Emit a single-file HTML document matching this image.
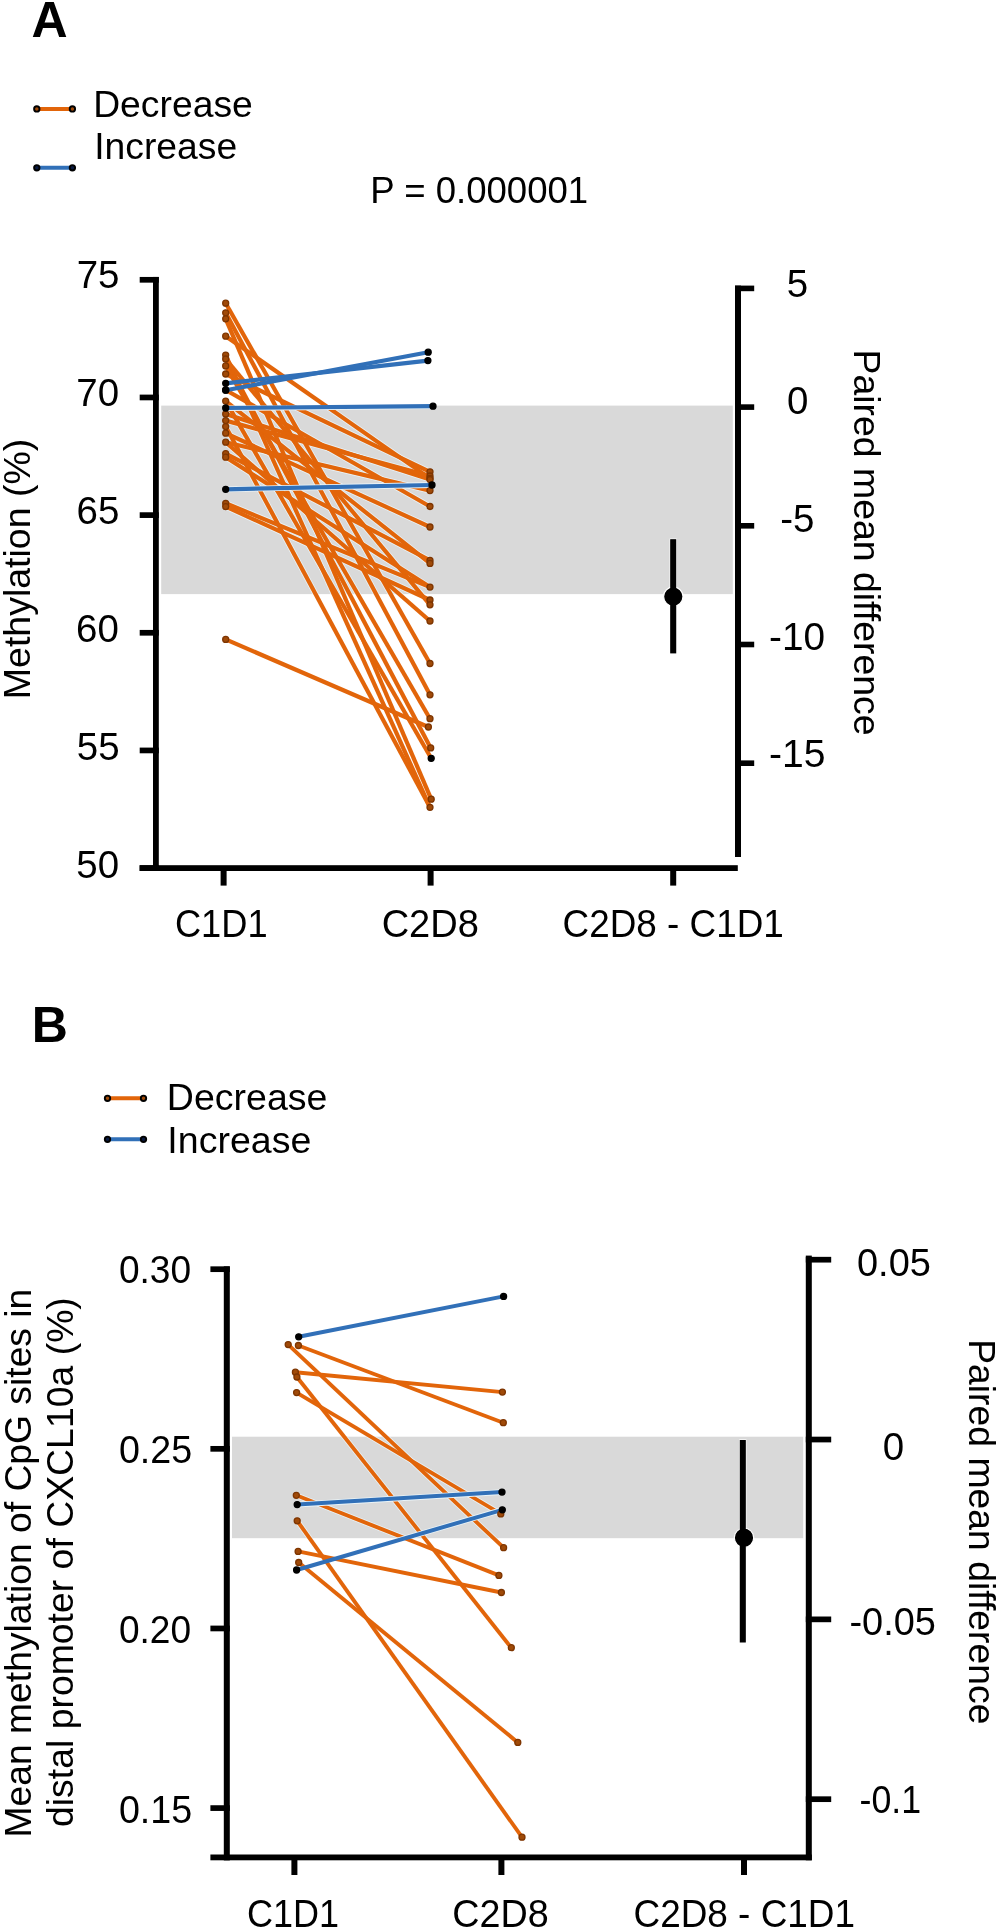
<!DOCTYPE html>
<html><head><meta charset="utf-8"><style>html,body{margin:0;padding:0;width:1000px;height:1931px;overflow:hidden;background:#fff}</style></head>
<body>
<svg width="1000" height="1931" viewBox="0 0 1000 1931" style="position:absolute;left:0;top:0;will-change:transform" font-family='"Liberation Sans", sans-serif'><rect width="1000" height="1931" fill="#fff"/><defs><clipPath id="ga"><rect x="161.2" y="405.6" width="571.6" height="188.5"/></clipPath><clipPath id="gb"><rect x="232" y="1436.7" width="571.2" height="101.5"/></clipPath></defs><g transform="matrix(1.00000 0 0 1.00000 -0.500 0.100)"><text transform="translate(32,37) rotate(0)" font-size="50" font-weight="bold">A</text></g><g transform="matrix(1.00844 0 0 1.00000 -3.636 0.050)"><text transform="translate(96,117) rotate(0)" font-size="37" font-weight="normal">Decrease</text></g><g transform="matrix(1.00803 0 0 1.00000 -2.595 0.150)"><text transform="translate(96,159) rotate(0)" font-size="37" font-weight="normal">Increase</text></g><g transform="matrix(0.98889 0 0 1.00000 1.378 -0.600)"><text transform="translate(373,204) rotate(0)" font-size="37" font-weight="normal">P = 0.000001</text></g><line x1="36.8" y1="108.9" x2="72.4" y2="108.9" stroke="#E2650A" stroke-width="4"/><circle cx="36.8" cy="108.9" r="2.7" fill="#A04A08" stroke="#000" stroke-width="1.9"/><circle cx="72.4" cy="108.9" r="2.7" fill="#A04A08" stroke="#000" stroke-width="1.9"/><line x1="36.8" y1="167.8" x2="72.4" y2="167.8" stroke="#3170B8" stroke-width="4"/><circle cx="36.8" cy="167.8" r="2.7" fill="#0a1a40" stroke="#000" stroke-width="1.9"/><circle cx="72.4" cy="167.8" r="2.7" fill="#0a1a40" stroke="#000" stroke-width="1.9"/><rect x="161.20" y="405.60" width="571.60" height="188.50" fill="#D9D9D9"/><rect x="153.00" y="276.95" width="5.80" height="594.05" fill="#000"/><rect x="139.60" y="865.20" width="598.20" height="5.80" fill="#000"/><rect x="139.70" y="276.95" width="19.10" height="5.70" fill="#000"/><rect x="139.70" y="394.61" width="19.10" height="5.70" fill="#000"/><rect x="139.70" y="512.27" width="19.10" height="5.70" fill="#000"/><rect x="139.70" y="629.93" width="19.10" height="5.70" fill="#000"/><rect x="139.70" y="747.59" width="19.10" height="5.70" fill="#000"/><rect x="139.70" y="865.25" width="19.10" height="5.70" fill="#000"/><g transform="matrix(1.04000 0 0 1.05200 -4.390 -14.700)"><text transform="translate(78,288) rotate(0)" font-size="37" font-weight="normal">75</text></g><g transform="matrix(1.04000 0 0 1.05200 -4.860 -20.836)"><text transform="translate(78,406) rotate(0)" font-size="37" font-weight="normal">70</text></g><g transform="matrix(1.04000 0 0 1.05200 -4.590 -26.570)"><text transform="translate(78,523) rotate(0)" font-size="37" font-weight="normal">65</text></g><g transform="matrix(1.04000 0 0 1.05200 -5.110 -33.358)"><text transform="translate(78,642) rotate(0)" font-size="37" font-weight="normal">60</text></g><g transform="matrix(1.04000 0 0 1.05200 -4.340 -38.592)"><text transform="translate(78,759) rotate(0)" font-size="37" font-weight="normal">55</text></g><g transform="matrix(1.04000 0 0 1.05200 -4.860 -45.430)"><text transform="translate(78,878) rotate(0)" font-size="37" font-weight="normal">50</text></g><rect x="735.00" y="285.60" width="6.00" height="571.40" fill="#000"/><rect x="735.00" y="285.60" width="19.20" height="5.60" fill="#000"/><rect x="735.00" y="404.30" width="19.20" height="5.60" fill="#000"/><rect x="735.00" y="523.00" width="19.20" height="5.60" fill="#000"/><rect x="735.00" y="641.70" width="19.20" height="5.60" fill="#000"/><rect x="735.00" y="760.40" width="19.20" height="5.60" fill="#000"/><g transform="matrix(1.04000 0 0 1.05200 -32.690 -14.816)"><text transform="translate(788,296) rotate(0)" font-size="37" font-weight="normal">5</text></g><g transform="matrix(1.04000 0 0 1.05200 -32.470 -21.202)"><text transform="translate(788,414) rotate(0)" font-size="37" font-weight="normal">0</text></g><g transform="matrix(1.04000 0 0 1.05200 -33.040 -27.588)"><text transform="translate(782,532) rotate(0)" font-size="37" font-weight="normal">-5</text></g><g transform="matrix(1.04800 0 0 1.05200 -38.904 -33.924)"><text transform="translate(771,650) rotate(0)" font-size="37" font-weight="normal">-10</text></g><g transform="matrix(1.05600 0 0 1.05200 -45.088 -39.808)"><text transform="translate(771,767) rotate(0)" font-size="37" font-weight="normal">-15</text></g><rect x="220.60" y="868.00" width="6.00" height="17.60" fill="#000"/><rect x="427.60" y="868.00" width="6.00" height="17.60" fill="#000"/><rect x="670.20" y="868.00" width="6.00" height="17.60" fill="#000"/><g transform="matrix(0.97912 0 0 1.06000 1.637 -56.140)"><text transform="translate(177,937) rotate(0)" font-size="37" font-weight="normal">C1D1</text></g><g transform="matrix(1.02857 0 0 1.06000 -12.300 -56.140)"><text transform="translate(383,937) rotate(0)" font-size="37" font-weight="normal">C2D8</text></g><g transform="matrix(0.99633 0 0 1.06000 0.677 -56.290)"><text transform="translate(564,937) rotate(0)" font-size="37" font-weight="normal">C2D8 - C1D1</text></g><g transform="matrix(1.01000 0 0 1.01349 -1.015 -6.250)"><text transform="translate(31,696) rotate(-90)" font-size="37" font-weight="normal">Methylation (%)</text></g><g transform="matrix(1.01000 0 0 1.01114 -8.725 -6.355)"><text transform="translate(854,352) rotate(90)" font-size="37" font-weight="normal">Paired mean difference</text></g><g clip-path="url(#ga)"><line x1="225.7" y1="303.2" x2="430.0" y2="663.5" stroke="#EAF4F8" stroke-width="5.800000000000001" stroke-linecap="round"/><line x1="225.7" y1="312.8" x2="430.0" y2="694.8" stroke="#EAF4F8" stroke-width="5.800000000000001" stroke-linecap="round"/><line x1="225.7" y1="318.8" x2="431.2" y2="799.2" stroke="#EAF4F8" stroke-width="5.800000000000001" stroke-linecap="round"/><line x1="225.7" y1="336.2" x2="430.0" y2="478.4" stroke="#EAF4F8" stroke-width="5.800000000000001" stroke-linecap="round"/><line x1="225.7" y1="355.1" x2="430.0" y2="807.3" stroke="#EAF4F8" stroke-width="5.800000000000001" stroke-linecap="round"/><line x1="225.7" y1="359.0" x2="430.7" y2="747.9" stroke="#EAF4F8" stroke-width="5.800000000000001" stroke-linecap="round"/><line x1="225.7" y1="359.0" x2="430.0" y2="604.8" stroke="#EAF4F8" stroke-width="5.800000000000001" stroke-linecap="round"/><line x1="225.7" y1="365.9" x2="430.0" y2="718.7" stroke="#EAF4F8" stroke-width="5.800000000000001" stroke-linecap="round"/><line x1="225.7" y1="374.0" x2="430.0" y2="471.8" stroke="#EAF4F8" stroke-width="5.800000000000001" stroke-linecap="round"/><line x1="225.7" y1="390.0" x2="430.0" y2="506.5" stroke="#EAF4F8" stroke-width="5.800000000000001" stroke-linecap="round"/><line x1="225.7" y1="401.1" x2="431.2" y2="758.3" stroke="#EAF4F8" stroke-width="5.800000000000001" stroke-linecap="round"/><line x1="225.7" y1="401.1" x2="430.0" y2="563.4" stroke="#EAF4F8" stroke-width="5.800000000000001" stroke-linecap="round"/><line x1="225.7" y1="414.0" x2="430.0" y2="479.6" stroke="#EAF4F8" stroke-width="5.800000000000001" stroke-linecap="round"/><line x1="225.7" y1="420.6" x2="430.0" y2="476.0" stroke="#EAF4F8" stroke-width="5.800000000000001" stroke-linecap="round"/><line x1="225.7" y1="426.6" x2="430.0" y2="807.3" stroke="#EAF4F8" stroke-width="5.800000000000001" stroke-linecap="round"/><line x1="225.7" y1="433.2" x2="430.0" y2="527.0" stroke="#EAF4F8" stroke-width="5.800000000000001" stroke-linecap="round"/><line x1="225.7" y1="442.2" x2="430.0" y2="490.6" stroke="#EAF4F8" stroke-width="5.800000000000001" stroke-linecap="round"/><line x1="225.7" y1="442.2" x2="430.0" y2="621.0" stroke="#EAF4F8" stroke-width="5.800000000000001" stroke-linecap="round"/><line x1="225.7" y1="453.6" x2="430.0" y2="560.4" stroke="#EAF4F8" stroke-width="5.800000000000001" stroke-linecap="round"/><line x1="225.7" y1="457.2" x2="430.0" y2="587.1" stroke="#EAF4F8" stroke-width="5.800000000000001" stroke-linecap="round"/><line x1="225.7" y1="503.3" x2="430.0" y2="587.1" stroke="#EAF4F8" stroke-width="5.800000000000001" stroke-linecap="round"/><line x1="225.7" y1="506.6" x2="430.0" y2="600.0" stroke="#EAF4F8" stroke-width="5.800000000000001" stroke-linecap="round"/><line x1="225.7" y1="639.4" x2="428.4" y2="727.0" stroke="#EAF4F8" stroke-width="5.800000000000001" stroke-linecap="round"/></g><line x1="225.7" y1="303.2" x2="430.0" y2="663.5" stroke="#E2650A" stroke-width="4.2"/><line x1="225.7" y1="312.8" x2="430.0" y2="694.8" stroke="#E2650A" stroke-width="4.2"/><line x1="225.7" y1="318.8" x2="431.2" y2="799.2" stroke="#E2650A" stroke-width="4.2"/><line x1="225.7" y1="336.2" x2="430.0" y2="478.4" stroke="#E2650A" stroke-width="4.2"/><line x1="225.7" y1="355.1" x2="430.0" y2="807.3" stroke="#E2650A" stroke-width="4.2"/><line x1="225.7" y1="359.0" x2="430.7" y2="747.9" stroke="#E2650A" stroke-width="4.2"/><line x1="225.7" y1="359.0" x2="430.0" y2="604.8" stroke="#E2650A" stroke-width="4.2"/><line x1="225.7" y1="365.9" x2="430.0" y2="718.7" stroke="#E2650A" stroke-width="4.2"/><line x1="225.7" y1="374.0" x2="430.0" y2="471.8" stroke="#E2650A" stroke-width="4.2"/><line x1="225.7" y1="390.0" x2="430.0" y2="506.5" stroke="#E2650A" stroke-width="4.2"/><line x1="225.7" y1="401.1" x2="431.2" y2="758.3" stroke="#E2650A" stroke-width="4.2"/><line x1="225.7" y1="401.1" x2="430.0" y2="563.4" stroke="#E2650A" stroke-width="4.2"/><line x1="225.7" y1="414.0" x2="430.0" y2="479.6" stroke="#E2650A" stroke-width="4.2"/><line x1="225.7" y1="420.6" x2="430.0" y2="476.0" stroke="#E2650A" stroke-width="4.2"/><line x1="225.7" y1="426.6" x2="430.0" y2="807.3" stroke="#E2650A" stroke-width="4.2"/><line x1="225.7" y1="433.2" x2="430.0" y2="527.0" stroke="#E2650A" stroke-width="4.2"/><line x1="225.7" y1="442.2" x2="430.0" y2="490.6" stroke="#E2650A" stroke-width="4.2"/><line x1="225.7" y1="442.2" x2="430.0" y2="621.0" stroke="#E2650A" stroke-width="4.2"/><line x1="225.7" y1="453.6" x2="430.0" y2="560.4" stroke="#E2650A" stroke-width="4.2"/><line x1="225.7" y1="457.2" x2="430.0" y2="587.1" stroke="#E2650A" stroke-width="4.2"/><line x1="225.7" y1="503.3" x2="430.0" y2="587.1" stroke="#E2650A" stroke-width="4.2"/><line x1="225.7" y1="506.6" x2="430.0" y2="600.0" stroke="#E2650A" stroke-width="4.2"/><line x1="225.7" y1="639.4" x2="428.4" y2="727.0" stroke="#E2650A" stroke-width="4.2"/><g clip-path="url(#ga)"><line x1="225.7" y1="383.3" x2="427.9" y2="360.6" stroke="#EAF4F8" stroke-width="5.800000000000001" stroke-linecap="round"/><line x1="225.7" y1="390.2" x2="428.2" y2="352.2" stroke="#EAF4F8" stroke-width="5.800000000000001" stroke-linecap="round"/><line x1="225.7" y1="408.0" x2="433" y2="406.2" stroke="#EAF4F8" stroke-width="5.800000000000001" stroke-linecap="round"/><line x1="225.7" y1="489.3" x2="432" y2="485.0" stroke="#EAF4F8" stroke-width="5.800000000000001" stroke-linecap="round"/></g><line x1="225.7" y1="383.3" x2="427.9" y2="360.6" stroke="#3170B8" stroke-width="4.2"/><line x1="225.7" y1="390.2" x2="428.2" y2="352.2" stroke="#3170B8" stroke-width="4.2"/><line x1="225.7" y1="408.0" x2="433" y2="406.2" stroke="#3170B8" stroke-width="4.2"/><line x1="225.7" y1="489.3" x2="432" y2="485.0" stroke="#3170B8" stroke-width="4.2"/><circle cx="225.7" cy="303.2" r="3.0" fill="#A04A08" stroke="#7E3500" stroke-width="1.3"/><circle cx="225.7" cy="312.8" r="3.0" fill="#A04A08" stroke="#7E3500" stroke-width="1.3"/><circle cx="225.7" cy="318.8" r="3.0" fill="#A04A08" stroke="#7E3500" stroke-width="1.3"/><circle cx="225.7" cy="336.2" r="3.0" fill="#A04A08" stroke="#7E3500" stroke-width="1.3"/><circle cx="225.7" cy="355.1" r="3.0" fill="#A04A08" stroke="#7E3500" stroke-width="1.3"/><circle cx="225.7" cy="359.0" r="3.0" fill="#A04A08" stroke="#7E3500" stroke-width="1.3"/><circle cx="225.7" cy="365.9" r="3.0" fill="#A04A08" stroke="#7E3500" stroke-width="1.3"/><circle cx="225.7" cy="374.0" r="3.0" fill="#A04A08" stroke="#7E3500" stroke-width="1.3"/><circle cx="225.7" cy="390.0" r="3.0" fill="#000" stroke="#000" stroke-width="1.3"/><circle cx="225.7" cy="401.1" r="3.0" fill="#A04A08" stroke="#7E3500" stroke-width="1.3"/><circle cx="225.7" cy="414.0" r="3.0" fill="#A04A08" stroke="#7E3500" stroke-width="1.3"/><circle cx="225.7" cy="420.6" r="3.0" fill="#A04A08" stroke="#7E3500" stroke-width="1.3"/><circle cx="225.7" cy="426.6" r="3.0" fill="#A04A08" stroke="#7E3500" stroke-width="1.3"/><circle cx="225.7" cy="433.2" r="3.0" fill="#A04A08" stroke="#7E3500" stroke-width="1.3"/><circle cx="225.7" cy="442.2" r="3.0" fill="#A04A08" stroke="#7E3500" stroke-width="1.3"/><circle cx="225.7" cy="453.6" r="3.0" fill="#A04A08" stroke="#7E3500" stroke-width="1.3"/><circle cx="225.7" cy="457.2" r="3.0" fill="#A04A08" stroke="#7E3500" stroke-width="1.3"/><circle cx="225.7" cy="503.3" r="3.0" fill="#A04A08" stroke="#7E3500" stroke-width="1.3"/><circle cx="225.7" cy="506.6" r="3.0" fill="#A04A08" stroke="#7E3500" stroke-width="1.3"/><circle cx="225.7" cy="639.4" r="3.0" fill="#A04A08" stroke="#7E3500" stroke-width="1.3"/><circle cx="428.4" cy="727.0" r="3.0" fill="#A04A08" stroke="#7E3500" stroke-width="1.3"/><circle cx="430.0" cy="471.8" r="3.0" fill="#A04A08" stroke="#7E3500" stroke-width="1.3"/><circle cx="430.0" cy="476.0" r="3.0" fill="#A04A08" stroke="#7E3500" stroke-width="1.3"/><circle cx="430.0" cy="478.4" r="3.0" fill="#A04A08" stroke="#7E3500" stroke-width="1.3"/><circle cx="430.0" cy="479.6" r="3.0" fill="#A04A08" stroke="#7E3500" stroke-width="1.3"/><circle cx="430.0" cy="490.6" r="3.0" fill="#A04A08" stroke="#7E3500" stroke-width="1.3"/><circle cx="430.0" cy="506.5" r="3.0" fill="#A04A08" stroke="#7E3500" stroke-width="1.3"/><circle cx="430.0" cy="527.0" r="3.0" fill="#A04A08" stroke="#7E3500" stroke-width="1.3"/><circle cx="430.0" cy="560.4" r="3.0" fill="#A04A08" stroke="#7E3500" stroke-width="1.3"/><circle cx="430.0" cy="563.4" r="3.0" fill="#A04A08" stroke="#7E3500" stroke-width="1.3"/><circle cx="430.0" cy="587.1" r="3.0" fill="#A04A08" stroke="#7E3500" stroke-width="1.3"/><circle cx="430.0" cy="600.0" r="3.0" fill="#A04A08" stroke="#7E3500" stroke-width="1.3"/><circle cx="430.0" cy="604.8" r="3.0" fill="#A04A08" stroke="#7E3500" stroke-width="1.3"/><circle cx="430.0" cy="621.0" r="3.0" fill="#A04A08" stroke="#7E3500" stroke-width="1.3"/><circle cx="430.0" cy="663.5" r="3.0" fill="#A04A08" stroke="#7E3500" stroke-width="1.3"/><circle cx="430.0" cy="694.8" r="3.0" fill="#A04A08" stroke="#7E3500" stroke-width="1.3"/><circle cx="430.0" cy="718.7" r="3.0" fill="#A04A08" stroke="#7E3500" stroke-width="1.3"/><circle cx="430.0" cy="807.3" r="3.0" fill="#A04A08" stroke="#7E3500" stroke-width="1.3"/><circle cx="430.7" cy="747.9" r="3.0" fill="#A04A08" stroke="#7E3500" stroke-width="1.3"/><circle cx="431.2" cy="758.3" r="3.0" fill="#000" stroke="#000" stroke-width="1.3"/><circle cx="431.2" cy="799.2" r="3.0" fill="#A04A08" stroke="#7E3500" stroke-width="1.3"/><circle cx="225.7" cy="383.3" r="3.0" fill="#000" stroke="#000" stroke-width="1.3"/><circle cx="225.7" cy="390.2" r="3.0" fill="#000" stroke="#000" stroke-width="1.3"/><circle cx="225.7" cy="408.0" r="3.0" fill="#000" stroke="#000" stroke-width="1.3"/><circle cx="225.7" cy="489.3" r="3.0" fill="#000" stroke="#000" stroke-width="1.3"/><circle cx="427.9" cy="360.6" r="3.0" fill="#000" stroke="#000" stroke-width="1.3"/><circle cx="428.2" cy="352.2" r="3.0" fill="#000" stroke="#000" stroke-width="1.3"/><circle cx="432" cy="485.0" r="3.0" fill="#000" stroke="#000" stroke-width="1.3"/><circle cx="433" cy="406.2" r="3.0" fill="#000" stroke="#000" stroke-width="1.3"/><rect x="670.2" y="539.2" width="6" height="114.2" fill="#000" stroke="#fff" stroke-width="1.2"/><circle cx="673.3" cy="596.6" r="9.7" fill="#000" stroke="#fff" stroke-width="1.2"/><rect x="670.20" y="539.20" width="6.00" height="114.20" fill="#000"/><g transform="matrix(1.00000 0 0 1.00000 -3.250 0.650)"><text transform="translate(35,1041) rotate(0)" font-size="50" font-weight="bold">B</text></g><g transform="matrix(1.01364 0 0 1.00000 -5.459 0.050)"><text transform="translate(170,1110) rotate(0)" font-size="37" font-weight="normal">Decrease</text></g><g transform="matrix(1.01460 0 0 1.00000 -5.126 0.450)"><text transform="translate(170,1153) rotate(0)" font-size="37" font-weight="normal">Increase</text></g><line x1="107.5" y1="1098.3" x2="143.5" y2="1098.3" stroke="#E2650A" stroke-width="4"/><circle cx="107.5" cy="1098.3" r="2.7" fill="#A04A08" stroke="#000" stroke-width="1.9"/><circle cx="143.5" cy="1098.3" r="2.7" fill="#A04A08" stroke="#000" stroke-width="1.9"/><line x1="107.5" y1="1139.3" x2="143.5" y2="1139.3" stroke="#3170B8" stroke-width="4"/><circle cx="107.5" cy="1139.3" r="2.7" fill="#0a1a40" stroke="#000" stroke-width="1.9"/><circle cx="143.5" cy="1139.3" r="2.7" fill="#0a1a40" stroke="#000" stroke-width="1.9"/><rect x="232.00" y="1436.70" width="571.20" height="101.50" fill="#D9D9D9"/><rect x="223.80" y="1266.35" width="6.00" height="594.05" fill="#000"/><rect x="210.40" y="1854.50" width="601.40" height="5.80" fill="#000"/><rect x="210.40" y="1266.35" width="19.40" height="5.70" fill="#000"/><rect x="210.40" y="1445.98" width="19.40" height="5.70" fill="#000"/><rect x="210.40" y="1625.61" width="19.40" height="5.70" fill="#000"/><rect x="210.40" y="1805.24" width="19.40" height="5.70" fill="#000"/><g transform="matrix(1.00286 0 0 1.05200 -1.446 -65.988)"><text transform="translate(120,1282) rotate(0)" font-size="37" font-weight="normal">0.30</text></g><g transform="matrix(1.01739 0 0 1.05200 -3.204 -75.098)"><text transform="translate(120,1462) rotate(0)" font-size="37" font-weight="normal">0.25</text></g><g transform="matrix(1.00286 0 0 1.05200 -1.446 -84.608)"><text transform="translate(120,1642) rotate(0)" font-size="37" font-weight="normal">0.20</text></g><g transform="matrix(1.01739 0 0 1.05200 -3.204 -94.018)"><text transform="translate(120,1822) rotate(0)" font-size="37" font-weight="normal">0.15</text></g><rect x="805.80" y="1255.60" width="6.00" height="604.70" fill="#000"/><rect x="805.80" y="1256.85" width="25.40" height="5.70" fill="#000"/><rect x="805.80" y="1436.68" width="25.40" height="5.70" fill="#000"/><rect x="805.80" y="1616.51" width="25.40" height="5.70" fill="#000"/><rect x="805.80" y="1796.34" width="25.40" height="5.70" fill="#000"/><g transform="matrix(1.02609 0 0 1.05200 -23.409 -66.326)"><text transform="translate(858,1276) rotate(0)" font-size="37" font-weight="normal">0.05</text></g><g transform="matrix(1.04000 0 0 1.05200 -36.510 -75.744)"><text transform="translate(884,1460) rotate(0)" font-size="37" font-weight="normal">0</text></g><g transform="matrix(1.02469 0 0 1.05200 -22.562 -84.594)"><text transform="translate(851,1635) rotate(0)" font-size="37" font-weight="normal">-0.05</text></g><g transform="matrix(0.96667 0 0 1.05200 27.267 -93.850)"><text transform="translate(861,1813) rotate(0)" font-size="37" font-weight="normal">-0.1</text></g><rect x="291.40" y="1857.00" width="6.00" height="18.00" fill="#000"/><rect x="498.40" y="1857.00" width="6.00" height="18.00" fill="#000"/><rect x="741.00" y="1857.00" width="6.00" height="18.00" fill="#000"/><g transform="matrix(0.97363 0 0 1.06000 4.620 -114.580)"><text transform="translate(249,1926) rotate(0)" font-size="37" font-weight="normal">C1D1</text></g><g transform="matrix(1.01978 0 0 1.06000 -10.620 -114.580)"><text transform="translate(454,1926) rotate(0)" font-size="37" font-weight="normal">C2D8</text></g><g transform="matrix(0.99771 0 0 1.06000 -0.039 -114.880)"><text transform="translate(635,1926) rotate(0)" font-size="37" font-weight="normal">C2D8 - C1D1</text></g><g transform="matrix(1.01000 0 0 1.00741 -0.715 -10.063)"><text transform="translate(31,1834) rotate(-90)" font-size="37" font-weight="normal">Mean methylation of CpG sites in</text></g><g transform="matrix(1.01000 0 0 1.01058 -1.395 -17.282)"><text transform="translate(74,1825) rotate(-90)" font-size="37" font-weight="normal">distal promoter of CXCL10a (%)</text></g><g transform="matrix(1.01000 0 0 1.00928 -10.025 -15.287)"><text transform="translate(969,1342) rotate(90)" font-size="37" font-weight="normal">Paired mean difference</text></g><g clip-path="url(#gb)"><line x1="288.2" y1="1344.6" x2="503.6" y2="1547.7" stroke="#EAF4F8" stroke-width="5.5" stroke-linecap="round"/><line x1="298.4" y1="1345.5" x2="503.3" y2="1422.7" stroke="#EAF4F8" stroke-width="5.5" stroke-linecap="round"/><line x1="295.4" y1="1372.2" x2="502.4" y2="1392.1" stroke="#EAF4F8" stroke-width="5.5" stroke-linecap="round"/><line x1="296.9" y1="1377.0" x2="511.3" y2="1647.7" stroke="#EAF4F8" stroke-width="5.5" stroke-linecap="round"/><line x1="296.6" y1="1392.6" x2="500.8" y2="1513.9" stroke="#EAF4F8" stroke-width="5.5" stroke-linecap="round"/><line x1="296.3" y1="1495.3" x2="498.9" y2="1575.4" stroke="#EAF4F8" stroke-width="5.5" stroke-linecap="round"/><line x1="297.2" y1="1520.8" x2="522.0" y2="1837.2" stroke="#EAF4F8" stroke-width="5.5" stroke-linecap="round"/><line x1="298.1" y1="1551.4" x2="501.4" y2="1592.5" stroke="#EAF4F8" stroke-width="5.5" stroke-linecap="round"/><line x1="298.7" y1="1562.5" x2="517.8" y2="1742.4" stroke="#EAF4F8" stroke-width="5.5" stroke-linecap="round"/></g><line x1="288.2" y1="1344.6" x2="503.6" y2="1547.7" stroke="#E2650A" stroke-width="3.9"/><line x1="298.4" y1="1345.5" x2="503.3" y2="1422.7" stroke="#E2650A" stroke-width="3.9"/><line x1="295.4" y1="1372.2" x2="502.4" y2="1392.1" stroke="#E2650A" stroke-width="3.9"/><line x1="296.9" y1="1377.0" x2="511.3" y2="1647.7" stroke="#E2650A" stroke-width="3.9"/><line x1="296.6" y1="1392.6" x2="500.8" y2="1513.9" stroke="#E2650A" stroke-width="3.9"/><line x1="296.3" y1="1495.3" x2="498.9" y2="1575.4" stroke="#E2650A" stroke-width="3.9"/><line x1="297.2" y1="1520.8" x2="522.0" y2="1837.2" stroke="#E2650A" stroke-width="3.9"/><line x1="298.1" y1="1551.4" x2="501.4" y2="1592.5" stroke="#E2650A" stroke-width="3.9"/><line x1="298.7" y1="1562.5" x2="517.8" y2="1742.4" stroke="#E2650A" stroke-width="3.9"/><g clip-path="url(#gb)"><line x1="298.7" y1="1336.8" x2="503.6" y2="1296.4" stroke="#EAF4F8" stroke-width="5.6" stroke-linecap="round"/><line x1="297.2" y1="1504.6" x2="502.0" y2="1492.1" stroke="#EAF4F8" stroke-width="5.6" stroke-linecap="round"/><line x1="296.6" y1="1570.0" x2="502.3" y2="1509.8" stroke="#EAF4F8" stroke-width="5.6" stroke-linecap="round"/></g><line x1="298.7" y1="1336.8" x2="503.6" y2="1296.4" stroke="#3170B8" stroke-width="4.0"/><line x1="297.2" y1="1504.6" x2="502.0" y2="1492.1" stroke="#3170B8" stroke-width="4.0"/><line x1="296.6" y1="1570.0" x2="502.3" y2="1509.8" stroke="#3170B8" stroke-width="4.0"/><circle cx="288.2" cy="1344.6" r="3.0" fill="#A04A08" stroke="#7E3500" stroke-width="1.3"/><circle cx="295.4" cy="1372.2" r="3.0" fill="#A04A08" stroke="#7E3500" stroke-width="1.3"/><circle cx="296.3" cy="1495.3" r="3.0" fill="#A04A08" stroke="#7E3500" stroke-width="1.3"/><circle cx="296.6" cy="1392.6" r="3.0" fill="#A04A08" stroke="#7E3500" stroke-width="1.3"/><circle cx="296.9" cy="1377.0" r="3.0" fill="#A04A08" stroke="#7E3500" stroke-width="1.3"/><circle cx="297.2" cy="1520.8" r="3.0" fill="#A04A08" stroke="#7E3500" stroke-width="1.3"/><circle cx="298.1" cy="1551.4" r="3.0" fill="#A04A08" stroke="#7E3500" stroke-width="1.3"/><circle cx="298.4" cy="1345.5" r="3.0" fill="#A04A08" stroke="#7E3500" stroke-width="1.3"/><circle cx="298.7" cy="1562.5" r="3.0" fill="#A04A08" stroke="#7E3500" stroke-width="1.3"/><circle cx="498.9" cy="1575.4" r="3.0" fill="#A04A08" stroke="#7E3500" stroke-width="1.3"/><circle cx="500.8" cy="1513.9" r="3.0" fill="#A04A08" stroke="#7E3500" stroke-width="1.3"/><circle cx="501.4" cy="1592.5" r="3.0" fill="#A04A08" stroke="#7E3500" stroke-width="1.3"/><circle cx="502.4" cy="1392.1" r="3.0" fill="#A04A08" stroke="#7E3500" stroke-width="1.3"/><circle cx="503.3" cy="1422.7" r="3.0" fill="#A04A08" stroke="#7E3500" stroke-width="1.3"/><circle cx="503.6" cy="1547.7" r="3.0" fill="#A04A08" stroke="#7E3500" stroke-width="1.3"/><circle cx="511.3" cy="1647.7" r="3.0" fill="#A04A08" stroke="#7E3500" stroke-width="1.3"/><circle cx="517.8" cy="1742.4" r="3.0" fill="#A04A08" stroke="#7E3500" stroke-width="1.3"/><circle cx="522.0" cy="1837.2" r="3.0" fill="#A04A08" stroke="#7E3500" stroke-width="1.3"/><circle cx="296.6" cy="1570.0" r="3.0" fill="#000" stroke="#000" stroke-width="1.3"/><circle cx="297.2" cy="1504.6" r="3.0" fill="#000" stroke="#000" stroke-width="1.3"/><circle cx="298.7" cy="1336.8" r="3.0" fill="#000" stroke="#000" stroke-width="1.3"/><circle cx="502.0" cy="1492.1" r="3.0" fill="#000" stroke="#000" stroke-width="1.3"/><circle cx="502.3" cy="1509.8" r="3.0" fill="#000" stroke="#000" stroke-width="1.3"/><circle cx="503.6" cy="1296.4" r="3.0" fill="#000" stroke="#000" stroke-width="1.3"/><rect x="739.8" y="1440" width="6" height="202.5" fill="#000" stroke="#fff" stroke-width="1.2"/><circle cx="744.0" cy="1537.7" r="9.7" fill="#000" stroke="#fff" stroke-width="1.2"/><rect x="739.80" y="1440.00" width="6.00" height="202.50" fill="#000"/></svg>
</body></html>
